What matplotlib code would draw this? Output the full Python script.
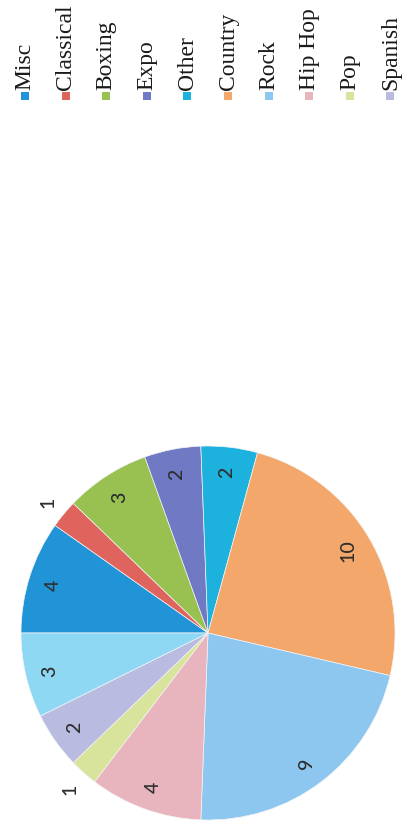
import matplotlib
matplotlib.use("Agg")
import matplotlib.pyplot as plt
import numpy as np
from matplotlib.patches import Rectangle

# Event counts by category
categories = ["Misc", "Classical", "Boxing", "Expo", "Other", "Country",
              "Rock", "Hip Hop", "Pop", "Spanish", "Jazz"]
counts = [4, 1, 3, 2, 2, 10, 9, 4, 1, 2, 3]
colors = ["#2094d6", "#e0645e", "#98c152", "#7079c4", "#1db2de", "#f4a76b",
          "#8dc7ef", "#e8b5be", "#d8e39b", "#babbe1", "#8ed8f4"]
# Legend entries shown on the page
legend_names = categories[:10]

W, H = 403, 829
fig = plt.figure(figsize=(W / 100, H / 100), dpi=100)
fig.patch.set_facecolor("white")

# Pie placed by pixel geometry
cx, cy, r = 208, 634, 187
ax = fig.add_axes([(cx - r) / W, (H - cy - r) / H, 2 * r / W, 2 * r / H])
wedges, _ = ax.pie(counts, colors=colors, startangle=180, counterclock=False,
                   wedgeprops=dict(edgecolor="#f4f4f4", linewidth=0.5))
ax.set_xlim(-1, 1)
ax.set_ylim(-1, 1)
ax.set_aspect("equal")
ax.axis("off")

# Value labels, rotated with the page
for w, v in zip(wedges, counts):
    mid = np.deg2rad((w.theta1 + w.theta2) / 2)
    d = 1.11 if v == 1 else 0.87
    ax.text(d * np.cos(mid), d * np.sin(mid), str(v), rotation=90,
            ha="center", va="center", rotation_mode="anchor",
            fontsize=14, color="#2e2e2e", family="Lato", weight="medium")

# Legend across the top, text running upward
for i, (name, col) in enumerate(zip(legend_names, colors)):
    x = 25 + i * 40.6
    y = 97
    fig.patches.append(Rectangle(((x - 4) / W, (H - y - 4) / H), 8 / W, 8 / H,
                                 transform=fig.transFigure, facecolor=col,
                                 edgecolor="none"))
    fig.text(x / W, (H - 90) / H, name, rotation=90, rotation_mode="anchor",
             ha="left", va="center", fontsize=17, color="#1a1a1a",
             family="Liberation Serif")

fig.savefig("out.png", dpi=100, facecolor="white")
